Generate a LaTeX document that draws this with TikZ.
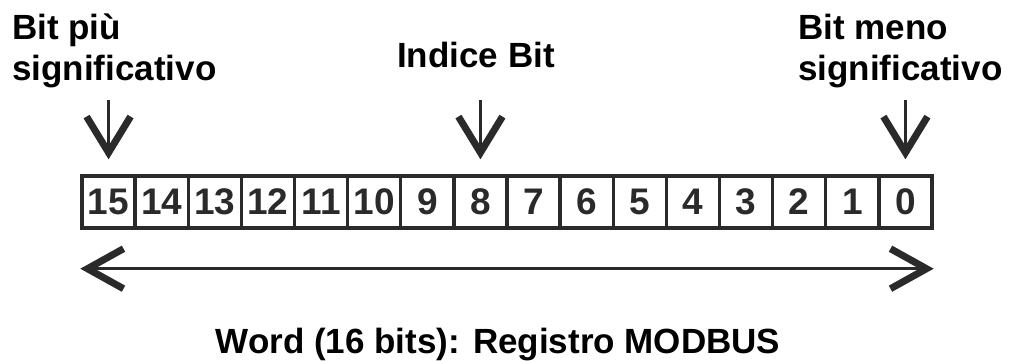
\documentclass[tikz,border=0pt]{standalone}
\usepackage{fontspec}
\setmainfont{Liberation Sans}
\usetikzlibrary{arrows.meta}
\definecolor{ink}{HTML}{2A2A2A}
\begin{document}
\begin{tikzpicture}[x=1pt,y=-1pt,
  cell/.style={draw=ink,line width=3.4pt,minimum width=53.125pt,minimum height=52pt,inner sep=0pt,
    font=\fontsize{37}{37}\selectfont\bfseries,text=ink},
  lbl/.style={font=\fontsize{35}{41}\selectfont\bfseries,inner sep=0pt,align=left},
  downarr/.style={draw=ink,line width=3pt,-{Straight Barb[length=36pt,width=44pt,line width=7pt]}},
  dblarr/.style={draw=ink,line width=3.4pt,{Straight Barb[length=36pt,width=40pt,line width=7pt]}-{Straight Barb[length=36pt,width=40pt,line width=7pt]}}]
\useasboundingbox (0,0) rectangle (1020,360);
\foreach \i in {0,...,15}{
  \pgfmathsetmacro{\cx}{82+53.125*(15-\i)+26.5625}
  \node[cell] (c\i) at (\cx,202) {\i};
}
\node[lbl,anchor=base west] (msb) at (12,80) {Bit più\\significativo};
\node[lbl,anchor=base] (idx) at (476,67) {Indice Bit};
\node[lbl,anchor=base west] (lsb) at (798,80) {Bit meno\\significativo};
\coordinate (a15) at (c15.north |- 0,100);
\coordinate (a8) at (c8.north |- 0,100);
\coordinate (a0) at (c0.north |- 0,100);
\draw[downarr,shorten >=15pt] (a15) -- (c15.north);
\draw[downarr,shorten >=15pt] (a8) -- (c8.north);
\draw[downarr,shorten >=15pt] (a0) -- (c0.north);
\draw[dblarr] ([yshift=-39pt]c15.south west) -- ([yshift=-39pt]c0.south east);
\node[lbl,anchor=base] (word) at (498,353) {Word (16 bits): Registro MODBUS};
\end{tikzpicture}
\end{document}
